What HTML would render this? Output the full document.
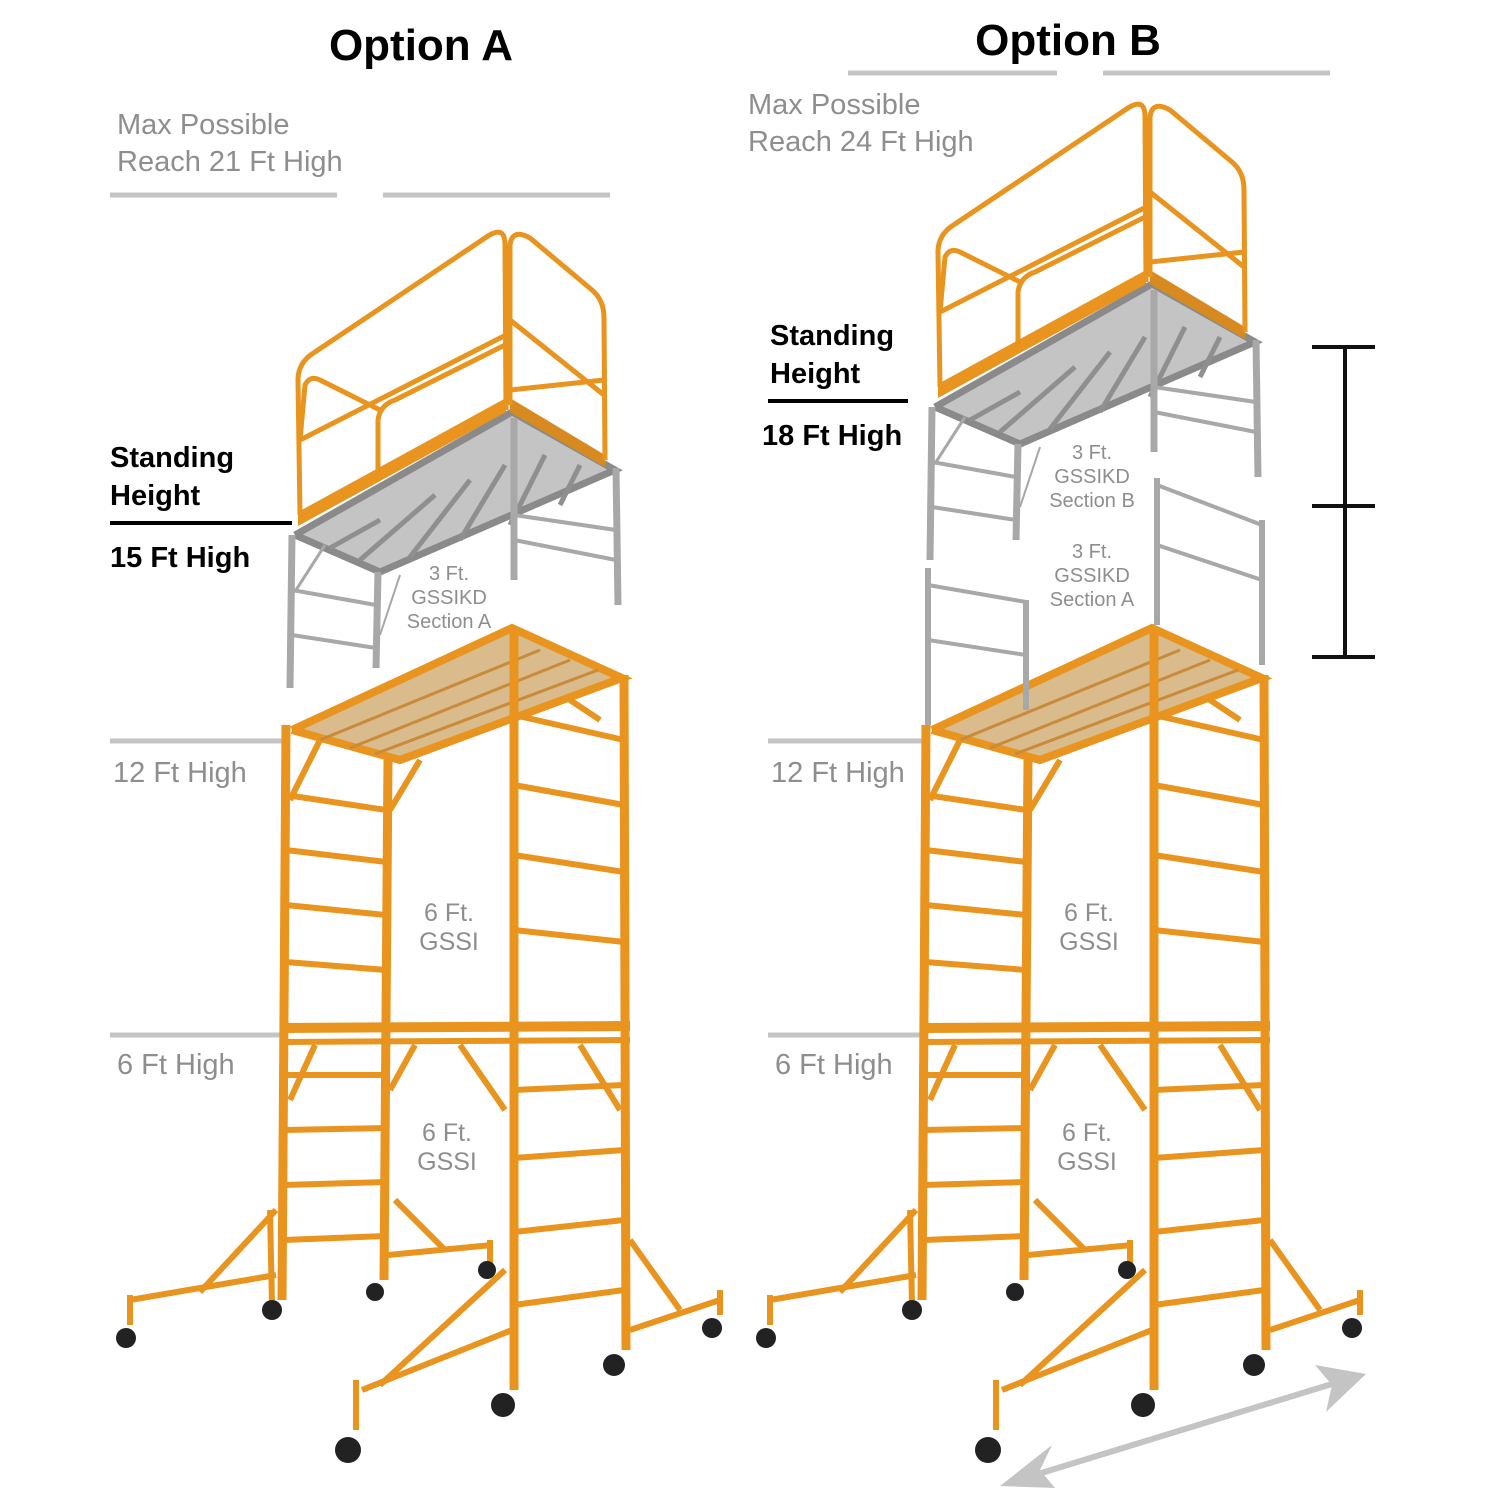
<!DOCTYPE html>
<html><head><meta charset="utf-8"><style>
html,body{margin:0;padding:0;background:#fff;}
svg{display:block}
text{font-family:"Liberation Sans",Arial,sans-serif}
</style></head><body>
<svg width="1500" height="1500" viewBox="0 0 1500 1500" xmlns="http://www.w3.org/2000/svg">
<defs>
<g id="lower">
  <polygon points="292,730 512,628 622,678 400,760" fill="#d9bb8c"/>
  <polyline points="292,730 512,628 622,678 400,760 292,730" fill="none" stroke="#e8941e" stroke-width="8"/>
  <line x1="320" y1="740" x2="540" y2="650" stroke="#c98a3a" stroke-width="3"/>
  <line x1="350" y1="748" x2="570" y2="660" stroke="#c98a3a" stroke-width="3"/>
  <line x1="375" y1="754" x2="598" y2="670" stroke="#c98a3a" stroke-width="3"/>
  <g stroke="#e8941e" stroke-width="9" fill="none">
    <line x1="286" y1="725" x2="282" y2="1300"/>
    <line x1="388" y1="760" x2="384" y2="1280"/>
    <line x1="514" y1="628" x2="514" y2="1390"/>
    <line x1="624" y1="675" x2="626" y2="1350"/>
  </g>
  <g stroke="#e8941e" stroke-width="6">
    <line x1="286" y1="795" x2="386" y2="810"/>
    <line x1="286" y1="850" x2="386" y2="862"/>
    <line x1="286" y1="905" x2="386" y2="915"/>
    <line x1="286" y1="962" x2="386" y2="970"/>
    <line x1="284" y1="1075" x2="386" y2="1075"/>
    <line x1="284" y1="1130" x2="386" y2="1128"/>
    <line x1="284" y1="1185" x2="386" y2="1182"/>
    <line x1="284" y1="1240" x2="386" y2="1236"/>
    <line x1="514" y1="715" x2="624" y2="740"/>
    <line x1="514" y1="785" x2="624" y2="805"/>
    <line x1="514" y1="855" x2="624" y2="872"/>
    <line x1="514" y1="930" x2="624" y2="942"/>
    <line x1="514" y1="1090" x2="624" y2="1085"/>
    <line x1="514" y1="1158" x2="624" y2="1150"/>
    <line x1="514" y1="1232" x2="624" y2="1220"/>
    <line x1="514" y1="1305" x2="624" y2="1290"/>
    <line x1="282" y1="1028" x2="630" y2="1026" stroke-width="10"/>
    <line x1="282" y1="1042" x2="630" y2="1040" stroke-width="6"/>
    <line x1="290" y1="800" x2="320" y2="740"/>
    <line x1="390" y1="810" x2="420" y2="760"/>
    <line x1="600" y1="720" x2="570" y2="700"/>
    <line x1="290" y1="1100" x2="315" y2="1045"/>
    <line x1="390" y1="1090" x2="415" y2="1045"/>
    <line x1="505" y1="1110" x2="460" y2="1045"/>
    <line x1="620" y1="1110" x2="580" y2="1045"/>
    <line x1="130" y1="1300" x2="276" y2="1275"/>
    <line x1="200" y1="1292" x2="276" y2="1210"/>
    <line x1="388" y1="1255" x2="492" y2="1245"/>
    <line x1="395" y1="1200" x2="445" y2="1250"/>
    <line x1="362" y1="1390" x2="512" y2="1330"/>
    <line x1="380" y1="1385" x2="505" y2="1270"/>
    <line x1="630" y1="1330" x2="720" y2="1300"/>
    <line x1="630" y1="1240" x2="680" y2="1310"/>
    <line x1="130" y1="1295" x2="130" y2="1325"/>
    <line x1="720" y1="1290" x2="720" y2="1315"/>
    <line x1="490" y1="1240" x2="490" y2="1265"/>
    <line x1="356" y1="1380" x2="356" y2="1430"/>
    <line x1="270" y1="1210" x2="272" y2="1305"/>
  </g>
  <g fill="#222">
    <circle cx="126" cy="1338" r="10"/><circle cx="272" cy="1310" r="10"/>
    <circle cx="375" cy="1292" r="9"/><circle cx="487" cy="1270" r="9"/>
    <circle cx="348" cy="1450" r="13"/><circle cx="503" cy="1405" r="12"/>
    <circle cx="614" cy="1365" r="11"/><circle cx="712" cy="1328" r="10"/>
  </g>
</g>
<g id="upper">
  <!-- gray deck -->
  <polygon points="295,535 512,412 615,470 380,572" fill="#c4c4c4"/>
  <polyline points="295,535 512,412 615,470 380,572 295,535" fill="none" stroke="#8a8a8a" stroke-width="7"/>
  <g stroke="#8f8f8f" stroke-width="5">
    <line x1="330" y1="548" x2="380" y2="520"/>
    <line x1="360" y1="560" x2="435" y2="495"/>
    <line x1="410" y1="557" x2="470" y2="480"/>
    <line x1="460" y1="540" x2="505" y2="465"/>
    <line x1="510" y1="525" x2="545" y2="455"/>
    <line x1="560" y1="505" x2="580" y2="465"/>
  </g>
  <g stroke="#a8a8a8" stroke-width="7" fill="none">
    <line x1="292" y1="535" x2="290" y2="688"/>
    <line x1="378" y1="572" x2="376" y2="668"/>
    <line x1="514" y1="418" x2="514" y2="580"/>
    <line x1="616" y1="468" x2="618" y2="605"/>
  </g>
  <g stroke="#a8a8a8" stroke-width="4" fill="none">
    <line x1="292" y1="590" x2="376" y2="605"/>
    <line x1="292" y1="635" x2="376" y2="648"/>
    <line x1="514" y1="515" x2="616" y2="530"/>
    <line x1="514" y1="540" x2="616" y2="560"/>
    <line x1="296" y1="590" x2="325" y2="545" stroke-width="3"/>
    <line x1="380" y1="635" x2="400" y2="575" stroke-width="2"/>
  </g>
  <!-- toe boards -->
  <polygon points="298,512 506,398 506,412 298,526" fill="#e8941e"/>
  <polygon points="510,398 605,455 605,467 510,412" fill="#d88a20"/>
  <!-- guardrails -->
  <g stroke="#e8941e" stroke-width="5" fill="none">
    <path d="M300,515 L298,380 Q298,362 315,352 L488,236 Q505,225 505,245 L506,410"/>
    <path d="M510,405 L510,245 Q512,228 530,238 L592,290 Q604,300 604,318 L605,460"/>
    <line x1="300" y1="440" x2="506" y2="335"/>
    <line x1="510" y1="320" x2="604" y2="395"/>
    <path d="M378,470 L378,420 Q380,405 395,400 L505,345"/>
    <path d="M300,440 L305,385 Q310,375 320,380 L380,410"/>
    <line x1="510" y1="390" x2="604" y2="380"/>
  </g>
</g>
</defs>

<text x="421" y="60" font-size="44" font-weight="bold" text-anchor="middle">Option A</text>
<text x="1068" y="55" font-size="44" font-weight="bold" text-anchor="middle">Option B</text>

<g fill="#8e8e8e" font-size="29">
  <text x="117" y="134">Max Possible</text>
  <text x="117" y="171">Reach 21 Ft High</text>
  <text x="748" y="114">Max Possible</text>
  <text x="748" y="151">Reach 24 Ft High</text>
  <text x="113" y="782">12 Ft High</text>
  <text x="117" y="1074">6 Ft High</text>
  <text x="771" y="782">12 Ft High</text>
  <text x="775" y="1074">6 Ft High</text>
</g>
<g stroke="#c4c4c4" stroke-width="5">
  <line x1="110" y1="195" x2="337" y2="195"/><line x1="383" y1="195" x2="610" y2="195"/>
  <line x1="848" y1="73" x2="1057" y2="73"/><line x1="1103" y1="73" x2="1330" y2="73"/>
  <line x1="110" y1="741" x2="285" y2="741"/><line x1="110" y1="1035" x2="282" y2="1035"/>
  <line x1="768" y1="741" x2="925" y2="741"/><line x1="768" y1="1035" x2="922" y2="1035"/>
</g>

<use href="#lower"/>
<use href="#lower" transform="translate(640,0)"/>
<use href="#upper"/>
<use href="#upper" transform="translate(640,-128)"/>
<g stroke="#a8a8a8" stroke-width="6">
  <line x1="928" y1="568" x2="928" y2="725"/><line x1="1026" y1="600" x2="1026" y2="710"/>
  <line x1="928" y1="585" x2="1026" y2="602" stroke-width="4"/>
  <line x1="928" y1="640" x2="1026" y2="655" stroke-width="4"/>
  <line x1="1157" y1="478" x2="1157" y2="625"/><line x1="1262" y1="520" x2="1262" y2="665"/>
  <line x1="1157" y1="485" x2="1262" y2="525" stroke-width="4"/>
  <line x1="1157" y1="545" x2="1262" y2="580" stroke-width="4"/>
</g>

<g fill="#8e8e8e" font-size="20" text-anchor="middle">
  <text x="449" y="580">3 Ft.</text><text x="449" y="604">GSSIKD</text><text x="449" y="628">Section A</text>
  <text x="1092" y="459">3 Ft.</text><text x="1092" y="483">GSSIKD</text><text x="1092" y="507">Section B</text>
  <text x="1092" y="558">3 Ft.</text><text x="1092" y="582">GSSIKD</text><text x="1092" y="606">Section A</text>
</g>
<g fill="#8e8e8e" font-size="25" text-anchor="middle">
  <text x="449" y="921">6 Ft.</text><text x="449" y="950">GSSI</text>
  <text x="447" y="1141">6 Ft.</text><text x="447" y="1170">GSSI</text>
  <text x="1089" y="921">6 Ft.</text><text x="1089" y="950">GSSI</text>
  <text x="1087" y="1141">6 Ft.</text><text x="1087" y="1170">GSSI</text>
</g>

<g font-size="29" font-weight="bold" fill="#000">
  <text x="110" y="467">Standing</text><text x="110" y="505">Height</text>
  <text x="110" y="567">15 Ft High</text>
  <text x="770" y="345">Standing</text><text x="770" y="383">Height</text>
  <text x="762" y="445">18 Ft High</text>
</g>
<line x1="110" y1="523" x2="292" y2="523" stroke="#000" stroke-width="4"/>
<line x1="768" y1="401" x2="908" y2="401" stroke="#000" stroke-width="4"/>

<g stroke="#111" stroke-width="4">
  <line x1="1345" y1="347" x2="1345" y2="657"/>
  <line x1="1312" y1="347" x2="1375" y2="347"/>
  <line x1="1312" y1="506" x2="1375" y2="506"/>
  <line x1="1312" y1="657" x2="1375" y2="657"/>
</g>

<g stroke="#c4c4c4" stroke-width="6" fill="#c4c4c4">
  <line x1="1025" y1="1478" x2="1345" y2="1380"/>
  <polygon points="1000,1486 1052,1445 1040,1470 1055,1488" stroke="none"/>
  <polygon points="1366,1374 1315,1365 1332,1385 1326,1412" stroke="none"/>
</g>
</svg>
</body></html>
